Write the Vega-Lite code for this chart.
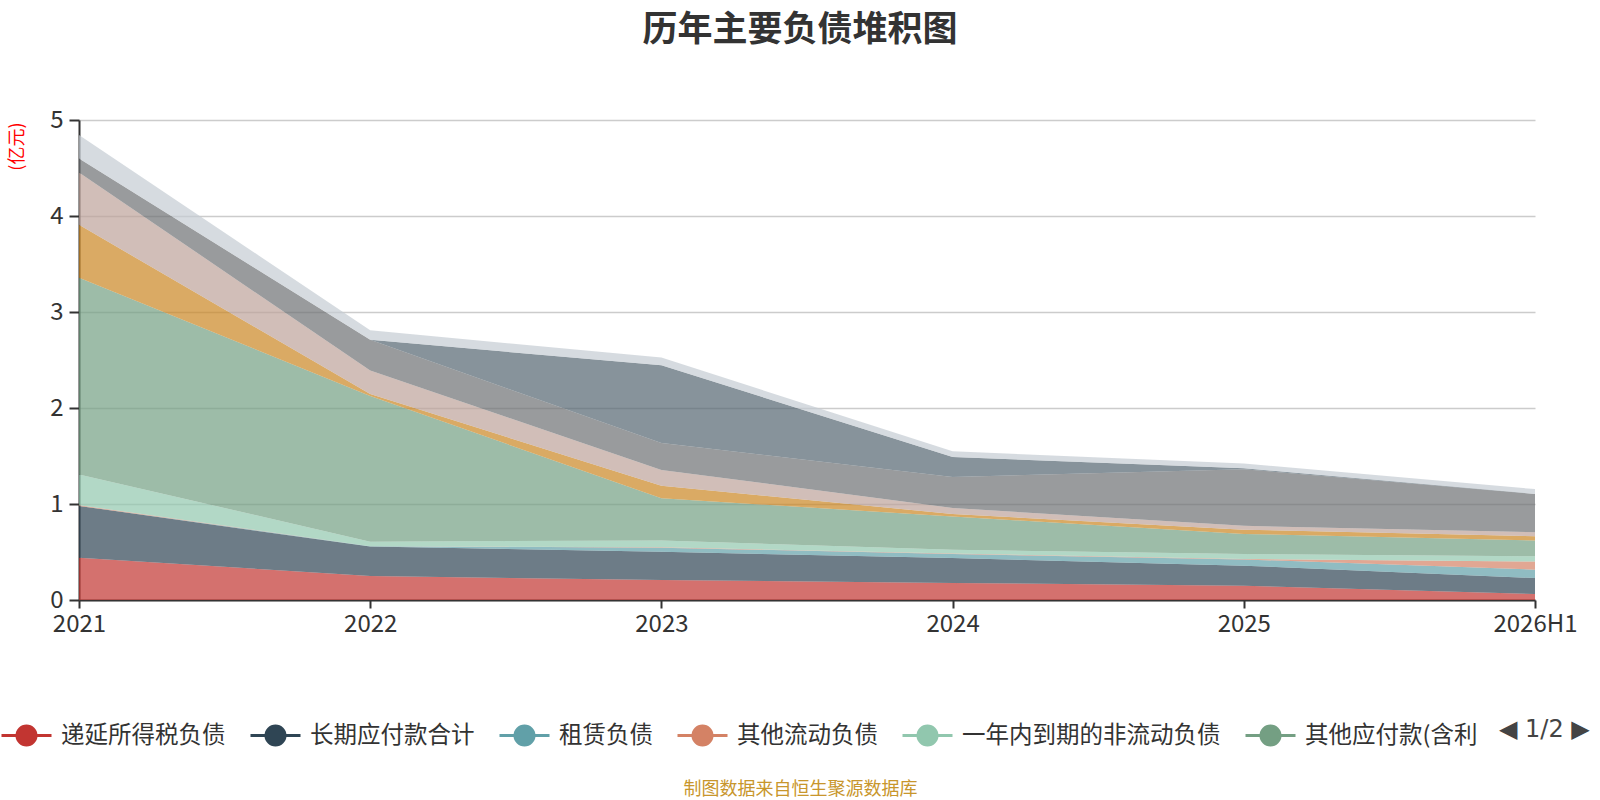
{
  "$schema": "https://vega.github.io/schema/vega-lite/v6.json",
  "width": 1456,
  "height": 480,
  "autosize": {"type": "none"},
  "padding": {"left": 79, "top": 120, "right": 65, "bottom": 200},
  "background": "#ffffff",
  "title": {
    "text": "历年主要负债堆积图",
    "anchor": "middle",
    "frame": "group",
    "font": "Noto Sans CJK SC",
    "fontSize": 35,
    "fontWeight": "bold",
    "color": "#333333",
    "offset": 60,
    "dx": -7
  },
  "config": {
    "view": {"stroke": null},
    "font": "Noto Sans CJK SC"
  },
  "data": {
    "values": [
      {"year": "2021", "item": "递延所得税负债", "value": 0.44},
      {"year": "2022", "item": "递延所得税负债", "value": 0.25},
      {"year": "2023", "item": "递延所得税负债", "value": 0.208},
      {"year": "2024", "item": "递延所得税负债", "value": 0.177},
      {"year": "2025", "item": "递延所得税负债", "value": 0.149},
      {"year": "2026H1", "item": "递延所得税负债", "value": 0.063},
      {"year": "2021", "item": "长期应付款合计", "value": 0.54},
      {"year": "2022", "item": "长期应付款合计", "value": 0.306},
      {"year": "2023", "item": "长期应付款合计", "value": 0.295},
      {"year": "2024", "item": "长期应付款合计", "value": 0.26},
      {"year": "2025", "item": "长期应付款合计", "value": 0.209},
      {"year": "2026H1", "item": "长期应付款合计", "value": 0.166},
      {"year": "2021", "item": "租赁负债", "value": 0.0},
      {"year": "2022", "item": "租赁负债", "value": 0.005},
      {"year": "2023", "item": "租赁负债", "value": 0.042},
      {"year": "2024", "item": "租赁负债", "value": 0.042},
      {"year": "2025", "item": "租赁负债", "value": 0.065},
      {"year": "2026H1", "item": "租赁负债", "value": 0.087},
      {"year": "2021", "item": "其他流动负债", "value": 0.008},
      {"year": "2022", "item": "其他流动负债", "value": 0.0},
      {"year": "2023", "item": "其他流动负债", "value": 0.005},
      {"year": "2024", "item": "其他流动负债", "value": 0.005},
      {"year": "2025", "item": "其他流动负债", "value": 0.005},
      {"year": "2026H1", "item": "其他流动负债", "value": 0.084},
      {"year": "2021", "item": "一年内到期的非流动负债", "value": 0.32},
      {"year": "2022", "item": "一年内到期的非流动负债", "value": 0.047},
      {"year": "2023", "item": "一年内到期的非流动负债", "value": 0.07},
      {"year": "2024", "item": "一年内到期的非流动负债", "value": 0.04},
      {"year": "2025", "item": "一年内到期的非流动负债", "value": 0.05},
      {"year": "2026H1", "item": "一年内到期的非流动负债", "value": 0.055},
      {"year": "2021", "item": "其他应付款(含利息和股利)", "value": 2.05},
      {"year": "2022", "item": "其他应付款(含利息和股利)", "value": 1.517},
      {"year": "2023", "item": "其他应付款(含利息和股利)", "value": 0.44},
      {"year": "2024", "item": "其他应付款(含利息和股利)", "value": 0.346},
      {"year": "2025", "item": "其他应付款(含利息和股利)", "value": 0.21},
      {"year": "2026H1", "item": "其他应付款(含利息和股利)", "value": 0.165},
      {"year": "2021", "item": "应交税费", "value": 0.55},
      {"year": "2022", "item": "应交税费", "value": 0.02},
      {"year": "2023", "item": "应交税费", "value": 0.13},
      {"year": "2024", "item": "应交税费", "value": 0.026},
      {"year": "2025", "item": "应交税费", "value": 0.045},
      {"year": "2026H1", "item": "应交税费", "value": 0.045},
      {"year": "2021", "item": "应付职工薪酬", "value": 0.545},
      {"year": "2022", "item": "应付职工薪酬", "value": 0.245},
      {"year": "2023", "item": "应付职工薪酬", "value": 0.165},
      {"year": "2024", "item": "应付职工薪酬", "value": 0.062},
      {"year": "2025", "item": "应付职工薪酬", "value": 0.04},
      {"year": "2026H1", "item": "应付职工薪酬", "value": 0.04},
      {"year": "2021", "item": "合同负债", "value": 0.145},
      {"year": "2022", "item": "合同负债", "value": 0.32},
      {"year": "2023", "item": "合同负债", "value": 0.28},
      {"year": "2024", "item": "合同负债", "value": 0.323},
      {"year": "2025", "item": "合同负债", "value": 0.59},
      {"year": "2026H1", "item": "合同负债", "value": 0.4},
      {"year": "2021", "item": "应付账款", "value": 0.0},
      {"year": "2022", "item": "应付账款", "value": 0.0},
      {"year": "2023", "item": "应付账款", "value": 0.81},
      {"year": "2024", "item": "应付账款", "value": 0.209},
      {"year": "2025", "item": "应付账款", "value": 0.01},
      {"year": "2026H1", "item": "应付账款", "value": 0.0},
      {"year": "2021", "item": "应付票据", "value": 0.245},
      {"year": "2022", "item": "应付票据", "value": 0.1},
      {"year": "2023", "item": "应付票据", "value": 0.08},
      {"year": "2024", "item": "应付票据", "value": 0.059},
      {"year": "2025", "item": "应付票据", "value": 0.05},
      {"year": "2026H1", "item": "应付票据", "value": 0.05}
    ]
  },
  "transform": [
    {
      "calculate": "indexof(['递延所得税负债', '长期应付款合计', '租赁负债', '其他流动负债', '一年内到期的非流动负债', '其他应付款(含利息和股利)', '应交税费', '应付职工薪酬', '合同负债', '应付账款', '应付票据'], datum.item)",
      "as": "stackOrder"
    }
  ],
  "mark": {"type": "area", "opacity": 0.7, "interpolate": "linear"},
  "encoding": {
    "x": {
      "field": "year",
      "type": "ordinal",
      "sort": null,
      "scale": {"type": "point", "padding": 0},
      "axis": {
        "labelAngle": 0,
        "labelFontSize": 24,
        "labelColor": "#333333",
        "labelPadding": 4,
        "domainColor": "#333333",
        "domainWidth": 2,
        "tickColor": "#333333",
        "tickWidth": 2,
        "tickSize": 8,
        "grid": false,
        "title": "制图数据来自恒生聚源数据库",
        "titleFontSize": 18,
        "titleFontWeight": "normal",
        "titleColor": "#c8962c",
        "titleX": 721,
        "titleY": 189,
        "titleAlign": "center",
        "titleBaseline": "middle"
      }
    },
    "y": {
      "field": "value",
      "type": "quantitative",
      "stack": "zero",
      "scale": {"domain": [0, 5], "nice": false},
      "axis": {
        "values": [0, 1, 2, 3, 4, 5],
        "labelFontSize": 24,
        "labelColor": "#333333",
        "labelPadding": 6,
        "domainColor": "#333333",
        "domainWidth": 2,
        "tickColor": "#333333",
        "tickWidth": 2,
        "tickSize": 10,
        "grid": true,
        "gridColor": "#cccccc",
        "gridWidth": 1.5,
        "title": "(亿元)",
        "titleFontSize": 18,
        "titleFontWeight": "normal",
        "titleColor": "#ff0000",
        "titleAngle": -90,
        "titleX": -62,
        "titleY": 2,
        "titleAlign": "right",
        "titleBaseline": "middle"
      }
    },
    "order": {"field": "stackOrder", "type": "quantitative", "sort": "ascending"},
    "color": {
      "field": "item",
      "type": "nominal",
      "sort": ["递延所得税负债", "长期应付款合计", "租赁负债", "其他流动负债", "一年内到期的非流动负债", "其他应付款(含利息和股利)", "应交税费", "应付职工薪酬", "合同负债", "应付账款", "应付票据"],
      "scale": {
        "domain": ["递延所得税负债", "长期应付款合计", "租赁负债", "其他流动负债", "一年内到期的非流动负债", "其他应付款(含利息和股利)", "应交税费", "应付职工薪酬", "合同负债", "应付账款", "应付票据"],
        "range": ["#c23531", "#2f4554", "#61a0a8", "#d48265", "#91c7ae", "#749f83", "#ca8622", "#bda29a", "#6e7074", "#546570", "#c4ccd3"]
      },
      "legend": {
        "values": ["递延所得税负债", "长期应付款合计", "租赁负债", "其他流动负债", "一年内到期的非流动负债", "其他应付款(含利息和股利)"],
        "orient": "none",
        "direction": "horizontal",
        "columns": 6,
        "legendX": -79,
        "legendY": 589,
        "columnPadding": 18,
        "symbolType": "M-1,0H1M0.38,0A0.38,0.38 0 1,1 -0.38,0A0.38,0.38 0 1,1 0.38,0Z",
        "symbolSize": 2500,
        "symbolStrokeWidth": 3,
        "symbolOpacity": 1,
        "labelFontSize": 23.5,
        "labelColor": "#333333",
        "labelOffset": 8,
        "labelLimit": 400,
        "labelExpr": "datum.label == '其他应付款(含利息和股利)' ? '其他应付款(含利' : datum.label",
        "title": "◀ 1/2 ▶",
        "titleOrient": "right",
        "titleFont": "DejaVu Sans",
        "titleFontSize": 24,
        "titleFontWeight": "normal",
        "titleColor": "#444444",
        "titlePadding": 22,
        "titleLimit": 200,
        "titleAnchor": "middle",
        "titleBaseline": "middle",
        "encode": {
          "symbols": {
            "update": {
              "stroke": {"scale": "color", "field": "value"},
              "fill": {"scale": "color", "field": "value"}
            }
          }
        }
      }
    }
  }
}
